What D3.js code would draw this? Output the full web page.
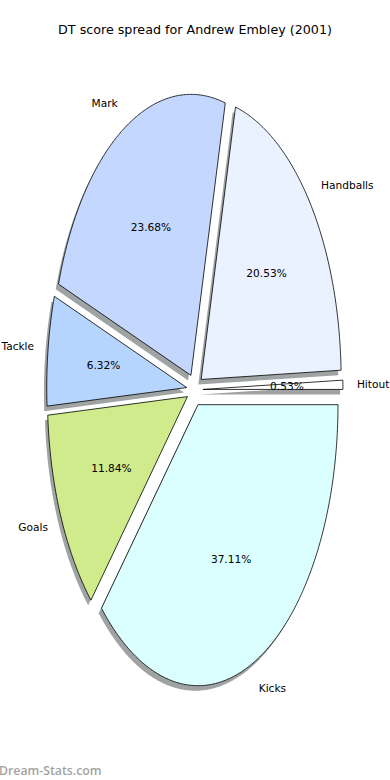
<!DOCTYPE html>
<html>
<head>
<meta charset="utf-8">
<script src="https://cdn.jsdelivr.net/npm/d3@7"></script>
<style>
  body { margin: 0; background: #fff; }
  svg { display: block; font-family: "DejaVu Sans", sans-serif; }
</style>
</head>
<body>
<svg width="390" height="780"></svg>
<script>
// Values (DT points per category)
var labels = ["Kicks", "Goals", "Tackle", "Mark", "Handballs", "Hitout"];
var values = [141, 45, 24, 90, 78, 2];
var colours = ["#dbffff", "#cfeb8b", "#b5d5ff", "#c4d8ff", "#eaf1ff", "#ffffff"];

var svg = d3.select("svg"),
    width = +svg.attr("width"),
    height = +svg.attr("height");

// ellipse centre and radii (the axes are not square, so the pie is stretched)
var cx = 194.8, cy = 389.7, rx = 140, ry = 281,
    explode = 0.058;

// unit coords -> pixels
var x = d3.scaleLinear().domain([-1, 1]).range([cx - rx, cx + rx]),
    y = d3.scaleLinear().domain([-1, 1]).range([cy - ry, cy + ry]);

// clockwise from 3 o'clock
var pie = d3.pie().sort(null)
    .startAngle(Math.PI / 2)
    .endAngle(Math.PI / 2 + 2 * Math.PI);

var arcs = pie(values);
var total = d3.sum(values);

var line = d3.line()
    .x(function(p) { return x(p[0]); })
    .y(function(p) { return y(p[1]); });

function unit(a) { return [Math.sin(a), -Math.cos(a)]; }

function wedge(d, dx, dy) {
  var mid = (d.startAngle + d.endAngle) / 2,
      o = unit(mid),
      ox = o[0] * explode + dx,
      oy = o[1] * explode + dy;
  var pts = [[ox, oy]];
  var n = Math.max(2, Math.ceil((d.endAngle - d.startAngle) / 0.01));
  for (var i = 0; i <= n; i++) {
    var a = d.startAngle + (d.endAngle - d.startAngle) * i / n,
        u = unit(a);
    pts.push([ox + u[0], oy + u[1]]);
  }
  return line(pts) + "Z";
}

// shadows first, under every wedge
svg.append("g").selectAll("path")
    .data(arcs)
  .enter().append("path")
    .attr("d", function(d) { return wedge(d, -0.02, 0.018); })
    .attr("fill", "#a0a3a3");

svg.append("g").selectAll("path")
    .data(arcs)
  .enter().append("path")
    .attr("d", function(d) { return wedge(d, 0, 0); })
    .attr("fill", function(d, i) { return colours[i]; })
    .attr("stroke", "#000")
    .attr("stroke-width", 0.8)
    .attr("stroke-linejoin", "miter");

// category labels at 1.1 and percentages at 0.6
var lab = svg.append("g").attr("font-size", 10.6).attr("fill", "#000");

arcs.forEach(function(d, i) {
  var mid = (d.startAngle + d.endAngle) / 2,
      u = unit(mid),
      ox = u[0] * explode, oy = u[1] * explode;
  lab.append("text")
      .attr("x", x(ox + 1.1 * u[0]))
      .attr("y", y(oy + 1.1 * u[1]))
      .attr("dy", "0.35em")
      .attr("text-anchor", u[0] > 0 ? "start" : "end")
      .text(labels[i]);
  lab.append("text")
      .attr("x", x(ox + 0.6 * u[0]))
      .attr("y", y(oy + 0.6 * u[1]))
      .attr("dy", "0.35em")
      .attr("text-anchor", "middle")
      .text((values[i] / total * 100).toFixed(2) + "%");
});

// title
svg.append("text")
    .attr("x", width / 2)
    .attr("y", 30)
    .attr("dy", "0.35em")
    .attr("text-anchor", "middle")
    .attr("font-size", 12.7)
    .text("DT score spread for Andrew Embley (2001)");

// watermark
svg.append("text")
    .attr("x", -1)
    .attr("y", 775)
    .attr("font-family", "'Open Sans', sans-serif")
    .attr("font-weight", 600)
    .attr("font-size", 12.3)
    .attr("fill", "#a3a3a3")
    .text("Dream-Stats.com");
</script>
</body>
</html>
